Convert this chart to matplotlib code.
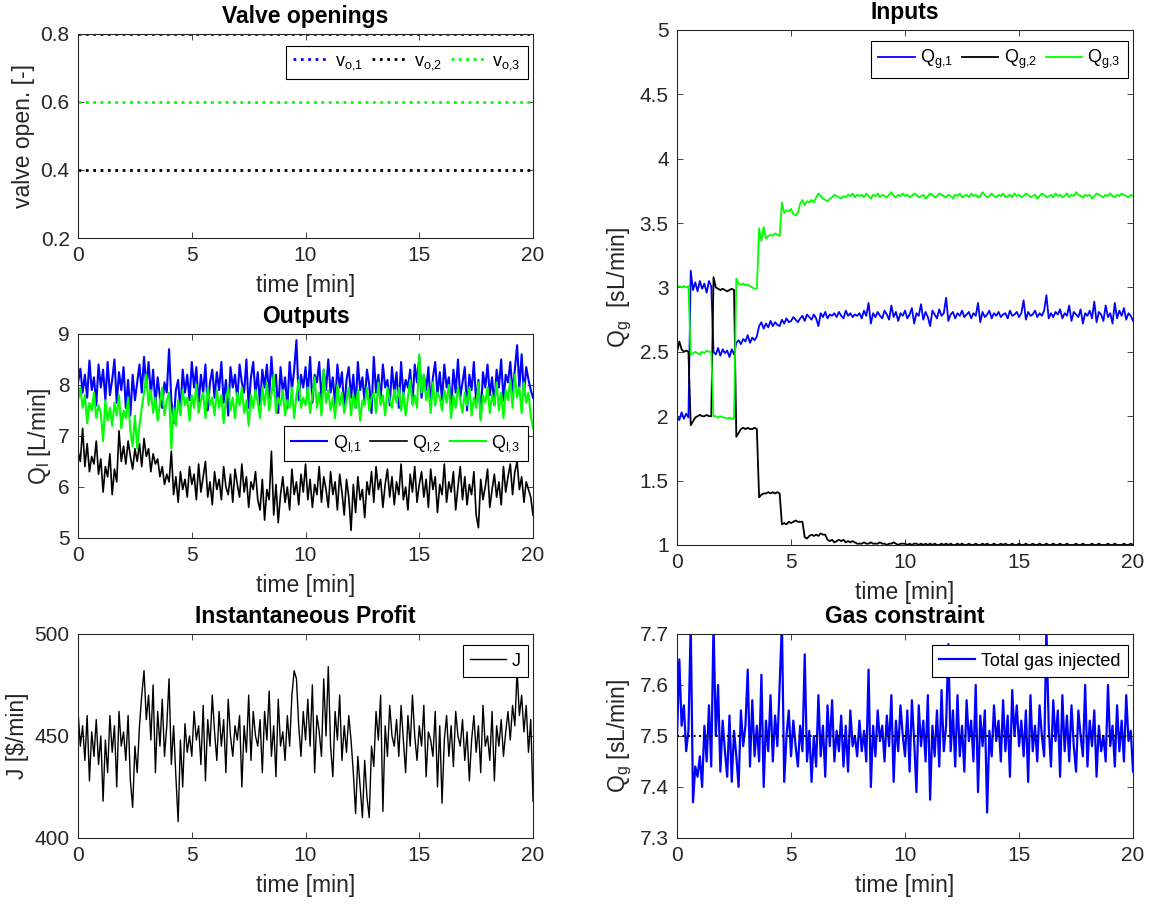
import numpy as np
import matplotlib
matplotlib.use("Agg")
import matplotlib.pyplot as plt

plt.rcParams['font.family'] = ['Liberation Sans', 'DejaVu Sans']
plt.rcParams['mathtext.default'] = 'regular'

# time axis, one sample every 6 s
t = np.linspace(0, 20, 201)

# valve openings (constant)
v_o1 = 0.8
v_o2 = 0.4
v_o3 = 0.6

# liquid outputs [L/min]
Q_l1 = [
    8.05, 8.32, 7.85, 8.20, 7.75, 8.48, 7.90, 8.15, 7.60, 8.40,
    7.95, 8.30, 7.70, 8.45, 7.80, 8.10, 8.50, 7.65, 8.25, 7.90,
    8.35, 7.55, 8.10, 7.40, 8.20, 7.70, 8.05, 8.40, 7.85, 8.55,
    7.95, 8.45, 7.80, 8.30, 7.60, 8.15, 7.75, 7.55, 8.05, 7.85,
    8.70, 7.70, 7.25, 7.90, 8.10, 7.45, 8.30, 7.85, 8.20, 7.70,
    8.45, 7.95, 8.35, 7.60, 8.20, 7.85, 8.40, 7.50, 8.05, 8.30,
    7.75, 8.25, 7.90, 8.45, 7.65, 8.10, 7.40, 8.35, 7.95, 8.20,
    7.70, 8.40, 8.05, 7.85, 8.50, 7.55, 8.15, 8.45, 7.80, 8.25,
    7.60, 8.30, 7.95, 8.40, 7.75, 8.55, 7.90, 8.20, 7.45, 8.35,
    7.85, 8.15, 7.55, 8.45, 7.90, 8.30, 8.88, 7.70, 8.20, 7.95,
    8.35, 7.80, 8.55, 7.65, 8.20, 8.05, 8.45, 7.70, 8.30, 7.90,
    8.50, 7.85, 8.15, 7.60, 8.40, 7.95, 8.25, 7.50, 8.10, 8.35,
    7.75, 8.20, 7.55, 8.45, 7.90, 8.15, 7.65, 8.30, 8.00, 7.45,
    8.55, 7.85, 8.20, 7.70, 8.40, 7.95, 8.10, 7.60, 8.35, 7.85,
    8.25, 7.55, 8.45, 7.80, 8.10, 7.95, 8.30, 7.65, 8.40, 8.05,
    8.55, 7.75, 8.20, 7.90, 8.35, 7.60, 8.15, 8.45, 7.80, 8.25,
    7.70, 8.40, 7.95, 8.15, 7.55, 8.30, 7.85, 8.50, 7.75, 8.05,
    8.35, 7.50, 8.20, 7.90, 8.45, 7.65, 8.10, 7.35, 8.25, 7.95,
    8.40, 7.80, 8.15, 7.60, 8.30, 7.95, 8.50, 7.70, 8.20, 8.05,
    8.45, 7.85, 8.30, 8.78, 7.95, 8.60, 7.80, 8.35, 8.10, 7.90,
    7.75]

Q_l2 = [
    6.70, 6.50, 7.15, 6.40, 6.85, 6.30, 6.60, 6.45, 6.90, 6.25,
    6.55, 5.90, 6.40, 6.20, 6.65, 5.85, 6.35, 6.10, 7.10, 6.50,
    6.80, 6.45, 6.90, 6.60, 6.35, 6.75, 6.50, 6.85, 6.40, 6.95,
    6.60, 6.75, 6.30, 6.65, 6.45, 6.55, 6.20, 6.40, 6.05, 6.25,
    6.10, 6.70, 5.85, 6.20, 5.70, 6.30, 5.95, 6.15, 5.80, 6.40,
    6.05, 6.25, 5.75, 6.45, 5.90, 6.20, 6.50, 5.80, 6.10, 5.65,
    6.30, 5.95, 6.15, 5.75, 6.40, 6.00, 5.85, 6.25, 5.70, 6.35,
    6.05, 5.80, 6.45, 5.90, 6.20, 5.60, 6.10, 5.95, 6.30, 5.75,
    5.55, 6.15, 5.35, 5.95, 5.75, 6.70, 5.45, 6.05, 5.30, 5.85,
    6.20, 5.70, 6.00, 5.55, 6.35, 5.85, 6.10, 5.65, 6.25, 5.90,
    6.45, 5.75, 6.15, 5.60, 6.05, 5.85, 6.40, 5.70, 6.20, 5.95,
    5.60, 6.30, 5.85, 6.10, 5.55, 6.25, 5.90, 5.45, 6.15, 5.80,
    5.15, 6.05, 5.50, 6.20, 5.75, 5.95, 5.40, 6.10, 5.85, 6.30,
    5.70, 6.40, 5.95, 6.15, 5.60, 6.05, 6.35, 5.80, 6.20, 5.65,
    6.10, 5.85, 6.45, 5.75, 6.00, 5.55, 6.25, 5.90, 6.40, 5.70,
    6.05, 6.30, 5.80, 6.15, 5.60, 6.35, 5.95, 6.20, 5.50, 6.05,
    5.85, 6.45, 5.70, 6.10, 5.90, 6.30, 5.55, 6.00, 6.40, 5.75,
    6.20, 5.65, 6.05, 5.85, 6.30, 5.45, 5.20, 6.15, 5.75, 6.00,
    6.35, 5.60, 5.95, 6.25, 5.80, 6.10, 5.65, 6.40, 5.90, 6.20,
    6.45, 5.85, 6.30, 6.50, 5.95, 6.20, 5.70, 6.10, 5.95, 5.80,
    5.45]

Q_l3 = [
    7.70, 7.95, 7.55, 7.80, 7.25, 7.65, 7.50, 7.85, 7.35, 7.60,
    7.45, 6.90, 7.70, 7.30, 7.55, 7.20, 7.65, 7.40, 7.80, 7.15,
    7.50, 7.35, 7.75, 7.10, 6.80, 7.40, 6.75, 7.20, 7.55, 7.85,
    8.20, 7.60, 7.90, 7.45, 7.75, 7.30, 7.65, 7.95, 7.40, 7.70,
    7.85, 6.75, 7.55, 7.20, 7.70, 7.40, 7.90, 7.60, 7.75, 7.30,
    7.80, 7.55, 8.00, 7.45, 7.70, 7.85, 7.35, 7.95, 7.60, 7.75,
    7.40, 7.90, 7.55, 7.80, 7.25, 7.70, 7.95, 7.50, 7.75, 7.35,
    7.85, 7.60, 7.95, 7.45, 7.70, 7.20, 7.80, 7.55, 7.90, 7.65,
    7.35, 7.95, 7.60, 8.05, 7.50, 7.80, 8.20, 7.45, 7.75, 7.60,
    7.90, 7.40, 7.70, 7.55, 7.95, 7.35, 7.80, 8.10, 7.55, 7.75,
    7.60, 7.95, 7.45, 7.80, 8.15, 7.55, 7.85, 7.40, 8.30, 7.65,
    7.90, 7.50, 7.75, 7.35, 8.00, 7.60, 7.85, 7.45, 7.70, 7.95,
    7.40, 7.80, 7.55, 7.90, 7.30, 7.70, 7.60, 7.95, 7.50, 7.75,
    7.85, 7.45, 8.05, 7.60, 7.80, 7.40, 7.95, 7.70, 7.55, 7.90,
    7.65, 7.95, 7.50, 7.85, 7.40, 7.75, 8.10, 7.60, 7.80, 7.55,
    8.60, 7.85, 8.20, 7.70, 7.95, 7.45, 8.05, 7.60, 7.85, 7.75,
    7.50, 7.90, 7.65, 8.00, 7.35, 7.80, 7.55, 7.95, 7.70, 7.45,
    7.85, 7.60, 7.95, 7.40, 7.75, 7.55, 8.05, 7.30, 7.80, 7.65,
    7.95, 7.45, 7.80, 7.60, 8.05, 7.50, 7.85, 7.35, 7.90, 7.70,
    8.10, 7.55, 8.20, 7.75, 7.95, 7.45, 8.05, 7.65, 7.85, 7.40,
    7.15]

# instantaneous profit [$/min]
J = [
    462, 445, 455, 438, 460, 428, 452, 440, 458, 436,
    450, 418, 448, 432, 460, 442, 455, 425, 462, 445,
    452, 438, 460, 428, 415, 445, 432, 455, 470, 482,
    458, 470, 448, 475, 432, 462, 445, 468, 440, 455,
    478, 436, 455, 430, 408, 448, 425, 456, 442, 450,
    440, 462, 448, 455, 436, 465, 428, 458, 445, 470,
    452, 438, 462, 445, 458, 432, 468, 450, 440, 455,
    448, 460, 425, 455, 442, 470, 438, 462, 450, 445,
    458, 432, 462, 448, 472, 440, 455, 430, 468, 445,
    452, 438, 460, 445, 470, 482, 478, 455, 440, 462,
    448, 468, 445, 475, 432, 460, 452, 440, 478, 450,
    484, 445, 430, 462, 448, 470, 438, 455, 442, 460,
    448, 432, 412, 440, 425, 410, 438, 420, 410, 445,
    435, 462, 448, 470, 413, 455, 440, 465, 450, 445,
    458, 440, 465, 448, 432, 460, 445, 470, 450, 438,
    455, 445, 465, 430, 452, 448, 440, 462, 425, 455,
    417, 448, 460, 440, 455, 435, 462, 450, 445, 458,
    438, 452, 428, 448, 460, 442, 455, 432, 465, 445,
    450, 438, 462, 428, 455, 445, 458, 440, 452, 462,
    448, 465, 455, 482, 460, 470, 452, 465, 442, 458,
    418]

# gas injection rates [sL/min]
Q_g1 = [
    2.00, 1.97, 2.03, 1.98, 2.02, 1.99, 3.13, 2.98, 3.04, 2.97,
    3.05, 2.99, 3.03, 2.96, 3.05, 3.01, 2.50, 2.48, 2.53, 2.47,
    2.52, 2.49, 2.51, 2.46, 2.52, 2.48, 2.57, 2.59, 2.56, 2.60,
    2.58, 2.63, 2.57, 2.61, 2.59, 2.62, 2.70, 2.73, 2.68, 2.72,
    2.69, 2.74, 2.70, 2.73, 2.71, 2.70, 2.75, 2.72, 2.76, 2.73,
    2.74, 2.77, 2.75, 2.73, 2.76, 2.78, 2.74, 2.79, 2.77, 2.75,
    2.79, 2.76, 2.70, 2.80, 2.77, 2.81, 2.76, 2.79, 2.78, 2.80,
    2.77, 2.81, 2.78, 2.76, 2.82, 2.78, 2.80, 2.77, 2.79, 2.78,
    2.80, 2.76, 2.82, 2.78, 2.88, 2.72, 2.80, 2.77, 2.81, 2.78,
    2.76, 2.82, 2.79, 2.75, 2.86, 2.77, 2.81, 2.74, 2.80, 2.78,
    2.82, 2.76, 2.79, 2.84, 2.72, 2.80, 2.78, 2.87, 2.75, 2.81,
    2.77, 2.70, 2.82, 2.79, 2.76, 2.83, 2.78, 2.80, 2.92, 2.74,
    2.79, 2.81, 2.76, 2.80, 2.78, 2.82, 2.77, 2.79, 2.81, 2.76,
    2.80, 2.78, 2.88, 2.73, 2.81, 2.77, 2.79, 2.82, 2.76, 2.80,
    2.78, 2.81, 2.77, 2.79, 2.80, 2.76, 2.82, 2.78, 2.79, 2.81,
    2.77, 2.80, 2.90, 2.75, 2.81, 2.78, 2.79, 2.82, 2.77, 2.80,
    2.78, 2.82, 2.94, 2.76, 2.80, 2.77, 2.81, 2.79, 2.83, 2.76,
    2.80, 2.78, 2.86, 2.74, 2.81, 2.79, 2.77, 2.83, 2.72, 2.80,
    2.78, 2.82, 2.76, 2.89, 2.73, 2.81, 2.79, 2.74, 2.86, 2.77,
    2.80, 2.72, 2.88, 2.76, 2.82, 2.78, 2.84, 2.75, 2.80, 2.78,
    2.74]

Q_g2 = [
    2.50, 2.58, 2.52, 2.50, 2.51, 2.50, 1.93, 1.96, 1.99, 2.00,
    2.01, 2.00, 2.00, 2.01, 2.00, 2.00, 3.08, 3.00, 2.99, 2.98,
    2.99, 2.98, 2.97, 2.98, 2.99, 2.98, 1.84, 1.87, 1.90, 1.91,
    1.90, 1.91, 1.90, 1.90, 1.91, 1.90, 1.37, 1.39, 1.40, 1.40,
    1.41, 1.40, 1.41, 1.40, 1.41, 1.40, 1.16, 1.17, 1.16, 1.18,
    1.17, 1.18, 1.19, 1.18, 1.18, 1.18, 1.06, 1.05, 1.07, 1.08,
    1.07, 1.08, 1.07, 1.09, 1.08, 1.08, 1.04, 1.03, 1.04, 1.02,
    1.03, 1.04, 1.03, 1.04, 1.02, 1.03, 1.02, 1.03, 1.02, 1.01,
    1.01, 1.01, 1.02, 1.01, 1.01, 1.02, 1.01, 1.01, 1.01, 1.02,
    1.01, 1.01, 1.00, 1.01, 1.01, 1.02, 1.01, 1.00, 1.01, 1.01,
    1.01, 1.00, 1.01, 1.00, 1.01, 1.01, 1.00, 1.01, 1.00, 1.01,
    1.00, 1.01, 1.00, 1.01, 1.00, 1.00, 1.01, 1.00, 1.01, 1.00,
    1.01, 1.00, 1.00, 1.01, 1.00, 1.01, 1.00, 1.00, 1.01, 1.00,
    1.00, 1.01, 1.00, 1.00, 1.01, 1.00, 1.01, 1.00, 1.00, 1.01,
    1.00, 1.00, 1.01, 1.00, 1.01, 1.00, 1.00, 1.01, 1.00, 1.00,
    1.01, 1.00, 1.00, 1.01, 1.00, 1.00, 1.01, 1.00, 1.00, 1.01,
    1.00, 1.00, 1.01, 1.00, 1.00, 1.01, 1.00, 1.00, 1.01, 1.00,
    1.00, 1.01, 1.00, 1.00, 1.00, 1.01, 1.00, 1.00, 1.01, 1.00,
    1.00, 1.00, 1.01, 1.00, 1.00, 1.01, 1.00, 1.00, 1.00, 1.01,
    1.00, 1.00, 1.01, 1.00, 1.00, 1.00, 1.01, 1.00, 1.00, 1.01,
    1.00]

Q_g3 = [
    3.00, 3.01, 3.00, 3.01, 3.00, 3.01, 2.48, 2.49, 2.50, 2.49,
    2.48, 2.50, 2.49, 2.51, 2.50, 2.50, 2.00, 2.00, 1.99, 2.00,
    1.99, 1.99, 1.98, 1.99, 1.98, 1.98, 3.07, 3.03, 3.02, 3.03,
    3.02, 3.02, 3.01, 3.00, 2.99, 2.99, 3.46, 3.36, 3.47, 3.38,
    3.40, 3.41, 3.40, 3.42, 3.41, 3.40, 3.66, 3.58, 3.60, 3.59,
    3.61, 3.57, 3.56, 3.58, 3.65, 3.68, 3.64, 3.67, 3.66, 3.68,
    3.66, 3.70, 3.73, 3.71, 3.69, 3.68, 3.67, 3.69, 3.70, 3.72,
    3.71, 3.70, 3.69, 3.71, 3.70, 3.72, 3.71, 3.73, 3.70, 3.72,
    3.71, 3.72, 3.70, 3.73, 3.71, 3.69, 3.72, 3.71, 3.73, 3.70,
    3.72, 3.71, 3.70, 3.72, 3.74, 3.71, 3.70, 3.72, 3.71, 3.73,
    3.71, 3.72, 3.70, 3.71, 3.73, 3.72, 3.70, 3.71, 3.72, 3.69,
    3.71, 3.73, 3.72, 3.70, 3.71, 3.73, 3.72, 3.71, 3.70, 3.72,
    3.71, 3.69, 3.72, 3.71, 3.73, 3.70, 3.71, 3.72, 3.70, 3.73,
    3.71, 3.72, 3.70, 3.71, 3.74, 3.72, 3.70, 3.71, 3.73, 3.71,
    3.70, 3.72, 3.71, 3.73, 3.70, 3.71, 3.72, 3.70, 3.73, 3.71,
    3.72, 3.70, 3.71, 3.73, 3.72, 3.70, 3.71, 3.72, 3.69, 3.71,
    3.73, 3.72, 3.70, 3.71, 3.72, 3.70, 3.73, 3.71, 3.72, 3.70,
    3.71, 3.73, 3.70, 3.72, 3.71, 3.74, 3.72, 3.71, 3.70, 3.72,
    3.71, 3.72, 3.69, 3.71, 3.73, 3.72, 3.71, 3.70, 3.72, 3.71,
    3.73, 3.71, 3.70, 3.72, 3.71, 3.73, 3.72, 3.71, 3.70, 3.72,
    3.71]

# total gas injected [sL/min] and its limit
Q_g_tot = [
    7.50, 7.65, 7.52, 7.56, 7.47, 7.51, 7.72, 7.37, 7.44, 7.42,
    7.46, 7.40, 7.52, 7.45, 7.56, 7.44, 7.72, 7.50, 7.60, 7.43,
    7.53, 7.47, 7.42, 7.54, 7.41, 7.51, 7.46, 7.40, 7.55, 7.48,
    7.52, 7.63, 7.44, 7.57, 7.46, 7.52, 7.45, 7.62, 7.40, 7.53,
    7.47, 7.58, 7.45, 7.54, 7.48, 7.60, 7.72, 7.41, 7.50, 7.55,
    7.46, 7.53, 7.48, 7.44, 7.52, 7.47, 7.66, 7.45, 7.51, 7.41,
    7.50, 7.44, 7.58, 7.46, 7.52, 7.42, 7.56, 7.48, 7.57, 7.45,
    7.51, 7.47, 7.54, 7.44, 7.52, 7.43, 7.55, 7.48, 7.50, 7.46,
    7.53, 7.47, 7.51, 7.45, 7.63, 7.40, 7.52, 7.46, 7.55, 7.49,
    7.52, 7.45, 7.54, 7.48, 7.58, 7.41, 7.53, 7.47, 7.56, 7.50,
    7.46, 7.55, 7.43, 7.57, 7.49, 7.39, 7.56, 7.48, 7.53, 7.45,
    7.58, 7.375, 7.52, 7.46, 7.55, 7.44, 7.59, 7.47, 7.52, 7.68,
    7.47, 7.55, 7.44, 7.58, 7.46, 7.52, 7.43, 7.57, 7.49, 7.53,
    7.45, 7.60, 7.39, 7.54, 7.48, 7.55, 7.35, 7.51, 7.46, 7.56,
    7.49, 7.53, 7.45, 7.57, 7.47, 7.54, 7.42, 7.59, 7.50, 7.56,
    7.48, 7.53, 7.46, 7.55, 7.41, 7.58, 7.47, 7.52, 7.45, 7.56,
    7.50, 7.46, 7.71, 7.52, 7.44, 7.57, 7.49, 7.55, 7.42, 7.58,
    7.47, 7.54, 7.45, 7.56, 7.48, 7.43, 7.55, 7.50, 7.46, 7.60,
    7.44, 7.53, 7.48, 7.55, 7.42, 7.52, 7.47, 7.50, 7.45, 7.60,
    7.48, 7.52, 7.44, 7.56, 7.47, 7.53, 7.45, 7.58, 7.49, 7.51,
    7.43]
Q_g_max = 7.5

TICK_FS = 15
LABEL_FS = 16.5
EDGE = '0.15'


def matlab_axes(ax, ylim, yticks, yticklabels=None):
    ax.set_xlim(0, 20)
    ax.set_ylim(*ylim)
    ax.set_xticks([0, 5, 10, 15, 20])
    ax.set_yticks(yticks)
    if yticklabels is not None:
        ax.set_yticklabels(yticklabels)
    ax.tick_params(direction='in', top=True, right=True, labelsize=TICK_FS,
                   colors=EDGE, length=4, width=0.6, pad=6)
    for s in ax.spines.values():
        s.set_color(EDGE)
        s.set_linewidth(0.8)
    ax.set_xlabel('time [min]', fontsize=LABEL_FS, color=EDGE, labelpad=6)


def matlab_legend(ax, **kw):
    leg = ax.legend(fontsize=13, fancybox=False, framealpha=1,
                    edgecolor='black', handlelength=2.0, handletextpad=0.3,
                    columnspacing=0.5, borderpad=0.4, borderaxespad=0.3, **kw)
    leg.get_frame().set_linewidth(0.8)
    return leg


def title(ax, text):
    ax.set_title(text, fontsize=LABEL_FS, fontweight='bold', pad=8)


fig = plt.figure(figsize=(11.53, 9.06), dpi=100)

# valve openings
ax1 = fig.add_axes([0.0677, 0.7373, 0.3946, 0.2252])
ax1.plot(t, np.full_like(t, v_o1), ':', color='blue', lw=2, label='v$_{o{,}1}$')
ax1.plot(t, np.full_like(t, v_o2), ':', color='black', lw=2, label='v$_{o{,}2}$')
ax1.plot(t, np.full_like(t, v_o3), ':', color='#00ff00', lw=2, label='v$_{o{,}3}$')
matlab_axes(ax1, (0.2, 0.8), [0.2, 0.4, 0.6, 0.8], ['0.2', '0.4', '0.6', '0.8'])
ax1.set_ylabel('valve open. [-]', fontsize=LABEL_FS, color=EDGE)
title(ax1, 'Valve openings')
matlab_legend(ax1, loc='upper right', ncol=3, bbox_to_anchor=(1.0, 0.97))

# liquid outputs
ax2 = fig.add_axes([0.0677, 0.4062, 0.3946, 0.2252])
ax2.plot(t, Q_l1, color='blue', lw=1.5, label='Q$_{l{,}1}$')
ax2.plot(t, Q_l2, color='black', lw=1.2, label='Q$_{l{,}2}$')
ax2.plot(t, Q_l3, color='#00ff00', lw=1.5, label='Q$_{l{,}3}$')
matlab_axes(ax2, (5, 9), [5, 6, 7, 8, 9])
ax2.set_ylabel('Q$_l$ [L/min]', fontsize=LABEL_FS, color=EDGE)
title(ax2, 'Outputs')
matlab_legend(ax2, loc='upper right', ncol=3, bbox_to_anchor=(1.0, 0.575))

# profit
ax3 = fig.add_axes([0.0677, 0.0751, 0.3946, 0.2252])
ax3.plot(t, J, color='black', lw=1.0, label='J')
matlab_axes(ax3, (400, 500), [400, 450, 500])
ax3.set_ylabel('J [$/min]', fontsize=LABEL_FS, color=EDGE)
title(ax3, 'Instantaneous Profit')
matlab_legend(ax3, loc='upper right', bbox_to_anchor=(1.0, 0.97))

# gas inputs
ax4 = fig.add_axes([0.5872, 0.3985, 0.3955, 0.5684])
ax4.plot(t, Q_g1, color='blue', lw=1.3, label='Q$_{g{,}1}$')
ax4.plot(t, Q_g2, color='black', lw=1.3, label='Q$_{g{,}2}$')
ax4.plot(t, Q_g3, color='#00ff00', lw=1.3, label='Q$_{g{,}3}$')
matlab_axes(ax4, (1, 5), [1, 1.5, 2, 2.5, 3, 3.5, 4, 4.5, 5],
            ['1', '1.5', '2', '2.5', '3', '3.5', '4', '4.5', '5'])
ax4.set_ylabel('Q$_g$  [sL/min]', fontsize=LABEL_FS, color=EDGE)
title(ax4, 'Inputs')
matlab_legend(ax4, loc='upper right', ncol=3, bbox_to_anchor=(1.0, 0.99))

# total gas constraint
ax5 = fig.add_axes([0.5872, 0.0751, 0.3955, 0.2252])
ax5.plot(t, Q_g_tot, color='blue', lw=1.6, label='Total gas injected')
ax5.plot(t, np.full_like(t, Q_g_max), ':', color='black', lw=1.5)
matlab_axes(ax5, (7.3, 7.7), [7.3, 7.4, 7.5, 7.6, 7.7])
ax5.set_ylabel('Q$_g$ [sL/min]', fontsize=LABEL_FS, color=EDGE)
title(ax5, 'Gas constraint')
matlab_legend(ax5, loc='upper right', bbox_to_anchor=(1.0, 0.97))

fig.savefig('out.png', dpi=100)
